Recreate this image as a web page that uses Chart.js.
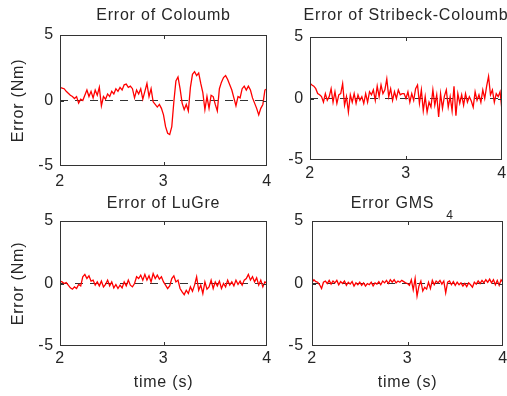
<!DOCTYPE html>
<html>
<head>
<meta charset="utf-8">
<script src="https://cdn.jsdelivr.net/npm/chart.js@4.4.1/dist/chart.umd.min.js"></script>
<style>
  body { margin: 0; width: 507px; height: 396px; overflow: hidden; background: #fff; position: relative; }
  canvas { position: absolute; }
</style>
</head>
<body>
<canvas id="coloumb" width="327" height="196" style="left:0;top:0"></canvas>
<canvas id="stribeck" width="272" height="196" style="left:270px;top:0"></canvas>
<canvas id="lugre" width="327" height="211" style="left:0;top:185px"></canvas>
<canvas id="gms" width="241" height="211" style="left:272px;top:185px"></canvas>
<script>
// time axis: 2 s to 4 s, one sample every 0.02 s
var tStart = 2, tStep = 0.02, nSamples = 101;
var xTicks = [2, 3, 4];
var yTicks = [-5, 0, 5];
var refTime = [2, 4];
var refValue = [0, 0];

var errColoumb = [
  1.0, 0.95, 0.9, 0.7, 0.55, 0.4, 0.3, 0.15, 0.3, -0.2,
  0.1, 0.0, 0.4, 0.8, 0.3, 0.7, 0.2, 0.8, 0.4, 1.0,
  -0.4, 0.3, 0.1, 0.5, 0.3, 0.7, 0.5, 0.9, 0.7, 1.0,
  0.8, 1.2, 1.25, 1.0, 1.1, 0.9, 0.2, 0.8, 0.5, 0.9,
  0.1, 0.7, 1.3, 0.3, 0.9, -0.1, -0.3, -0.5, -0.3, -0.6,
  -1.1, -2.0, -2.5, -2.6, -2.0, -0.1, 1.5, 1.8, 0.9, -0.2,
  -0.7, -0.3, -0.8, 1.0, 2.0, 2.2, 1.9, 2.1, 1.3, 0.6,
  -0.7, 0.3, -0.6, 0.4, 0.3, -0.3, -0.8, 0.9, 1.4, 1.75,
  1.9, 1.6, 1.2, 0.8, 0.2, -0.4, 0.3, 0.2, 0.9, 1.1,
  0.8, 1.1, 0.8, 0.2, -0.2, -0.6, -1.1, -0.6, -0.3, 0.8,
  0.9
];
var errStribeck = [
  1.23, 1.1, 1.0, 0.8, 0.4, 0.3, 0.15, -0.3, 0.4, -0.15,
  0.15, 0.8, -0.3, 0.55, -0.4, 0.3, 0.4, 1.2, -0.55, 0.15,
  -1.1, 0.3, -0.3, 0.4, -0.4, 0.3, -0.15, 0.15, -0.4, 0.4,
  -0.3, 0.55, 0.3, 0.7, -0.15, 1.0, 0.15, 1.1, 0.4, 0.7,
  1.6, 0.15, 0.8, -0.15, 0.55, 0.0, 0.7, 0.3, 0.4,
  0.4, 0.0, 0.55, -0.3, 0.4, -0.15, 0.8, 1.1, -0.4, 0.7,
  -1.0, 0.15, -1.1, -0.3, -0.7, 0.7, -0.55, 0.3, -1.5, 0.4,
  -0.8, 0.2, 0.7, -0.7, 0.15, -1.0, 1.0, -1.4, 0.4, -0.4,
  0.3, -0.55, 0.4, -0.3, 0.15, -0.2, -0.7, 0.55, -0.15, 0.3,
  -0.3, 0.7, 0.0, 1.0, 1.8, 0.3, 0.7, -0.3, 0.4, 0.15,
  0.55, -1.0
];
var errLuGre = [
  0.19, 0.13, 0, 0.08, -0.13, -0.35, -0.46, -0.27, -0.4, -0.08,
  -0.19, 0.54, 0.73, 0.4, 0.62, 0.19, 0.27, -0.13, 0.13, -0.19,
  0.19, -0.27, -0.08, 0.27, -0.19, 0.13, -0.35, -0.08, -0.4,
  -0.13, -0.35, 0.13, -0.19, 0.27, -0.13, -0.27, 0, 0.54, 0.4,
  0.67, 0.27, 0.73, 0.27, 0.62, 0.13, 0.8, 0.4, 0.67, 0.35,
  0.54, 0.13, -0.13, -0.4, -0.19, 0.4, 0.62, 0.13, 0.27, -0.4,
  -0.67, -0.89, -0.54, -0.8, -0.27, -0.62, -0.13, 0.54, -0.54, -0.13,
  -0.8, 0.13, -0.46, -0.27, 0.27, -0.4, 0.13, -0.19, 0.19,
  -0.4, 0, -0.27, 0.27, -0.13, 0.13, -0.19, 0.27, -0.08, 0.19,
  -0.13, 0.27, 0.4, 0.73, 0.27, 0.54, 0.13, 0.46, -0.13,
  0.27, -0.27, 0.13, 0
];
var errGMS = [
  0.1, 0.3, 0.15, 0.1, -0.1, -0.4, 0.1, 0.2, 0.0, 0.25,
  -0.05, 0.2, 0.05, 0.25, -0.1, 0.15, 0.0, 0.2, -0.15, 0.1,
  -0.05, 0.15, -0.2, 0.05, -0.1, 0.1, -0.15, 0.05, -0.2, 0.0,
  -0.1, 0.1, -0.2, 0.05, -0.05, 0.15, -0.1, 0.2, 0.05, 0.25,
  0.0, 0.3, 0.1, 0.3, 0.05, 0.2, 0.1, 0.25, 0.15, 0.05,
  0.0, -0.15, 0.3, -0.5, 0.4, -1.0, -0.2, 0.2, -0.6, -0.3,
  -0.45, 0.1, -0.4, 0.25, -0.1, 0.2, 0.05, 0.25, -0.05, 0.2,
  -0.75, 0.1, 0.2, -0.1, 0.15, -0.15, 0.1, -0.1, 0.05, -0.2,
  0.0, -0.25, 0.05, -0.1, -0.3, 0.1, -0.05, 0.2, 0.0, 0.25,
  0.05, 0.3, 0.1, 0.35, 0.05, 0.3, -0.1, 0.25, -0.15, 0.3,
  0.1
];

var time = [];
for (var i = 0; i < nSamples; i++) time.push(+(tStart + i * tStep).toFixed(2));

var FONT = 'Liberation Sans, Arial, sans-serif';
var TEXT = '#262626';

function pts(xs, ys) {
  return ys.map(function (v, i) { return { x: xs[i], y: v }; });
}

function clamp(v, lo, hi) { return Math.min(Math.max(v, lo), hi); }

// matlab style: box all round, ticks pointing inward
var boxPlugin = {
  id: 'box',
  beforeDraw: function (chart) { chart.ctx.letterSpacing = '0.8px'; },
  afterDatasetsDraw: function (chart) {
    var ctx = chart.ctx, a = chart.chartArea, x = chart.scales.x, y = chart.scales.y;
    ctx.save();
    ctx.strokeStyle = '#333';
    ctx.lineWidth = 1;
    ctx.strokeRect(a.left + 0.5, a.top + 0.5, a.width - 1, a.height - 1);
    ctx.beginPath();
    xTicks.forEach(function (v) {
      var px = clamp(Math.round(x.getPixelForValue(v)), a.left, a.right - 1) + 0.5;
      ctx.moveTo(px, a.bottom); ctx.lineTo(px, a.bottom - 4);
      ctx.moveTo(px, a.top); ctx.lineTo(px, a.top + 4);
    });
    yTicks.forEach(function (v) {
      var py = clamp(Math.round(y.getPixelForValue(v)), a.top, a.bottom - 1) + 0.5;
      ctx.moveTo(a.left, py); ctx.lineTo(a.left + 4, py);
      ctx.moveTo(a.right, py); ctx.lineTo(a.right - 4, py);
    });
    ctx.stroke();
    ctx.restore();
  },
  // subscript after the title text (tex style GMS_4)
  afterDraw: function (chart) {
    var sub = chart.options.plugins.box && chart.options.plugins.box.sub;
    if (!sub) return;
    var ctx = chart.ctx, tb = chart.titleBlock, t = chart.options.plugins.title;
    ctx.save();
    ctx.font = '16px ' + FONT;
    var w = ctx.measureText(t.text).width;
    var mid = tb.top + t.padding.top + 9.6;
    ctx.font = '12px ' + FONT;
    ctx.fillStyle = TEXT;
    ctx.textBaseline = 'alphabetic';
    ctx.textAlign = 'left';
    ctx.fillText(sub, (tb.left + tb.right) / 2 + w / 2 + 12, mid + 5.5 + 10.5);
    ctx.restore();
  }
};

function makeChart(id, title, series, o) {
  var xScale = {
    type: 'linear', min: 2, max: 4,
    grid: { display: false, drawTicks: false },
    border: { display: false },
    ticks: { stepSize: 1, color: TEXT, padding: o.xPad, font: { family: FONT, size: 16 } },
    afterFit: function (s) { s.height = o.xHeight; }
  };
  if (o.xTitle) {
    xScale.title = { display: true, text: 'time (s)', color: TEXT, padding: { top: 0, bottom: 3.5 }, font: { family: FONT, size: 16 } };
  }
  var yScale = {
    min: -5, max: 5,
    grid: { display: false, drawTicks: false },
    border: { display: false },
    ticks: { stepSize: 5, color: TEXT, padding: o.yPad, font: { family: FONT, size: 16 } },
    afterFit: function (s) { s.width = o.yWidth; }
  };
  if (o.yTitle) {
    yScale.title = { display: true, text: 'Error (Nm)', color: TEXT, padding: { top: 9, bottom: 0 }, font: { family: FONT, size: 16 } };
  }
  // empty right-hand axis only to reserve the margin, so the title stays centred over the plot
  var rightScale = {
    position: 'right', min: -5, max: 5,
    grid: { display: false, drawTicks: false },
    border: { display: false },
    ticks: { display: false },
    afterFit: function (s) { s.width = o.rightWidth; }
  };
  return new Chart(document.getElementById(id), {
    type: 'line',
    data: {
      datasets: [{
        data: pts(time, series),
        borderColor: '#ff0000',
        borderWidth: 1.3,
        pointRadius: 0,
        tension: 0
      }, {
        data: pts(refTime, refValue),
        borderColor: '#333',
        borderWidth: 1,
        borderDash: [8, 7],
        pointRadius: 0
      }]
    },
    options: {
      responsive: false,
      animation: false,
      layout: { padding: 0 },
      plugins: {
        legend: { display: false },
        tooltip: { enabled: false },
        title: {
          display: true, text: title, color: TEXT,
          font: { family: FONT, size: 16, weight: 'normal' },
          padding: { top: o.titleTop, bottom: o.titleBottom }
        },
        box: { sub: o.sub }
      },
      scales: { x: xScale, y: yScale, y2: rightScale }
    },
    plugins: [boxPlugin]
  });
}

makeChart('coloumb', 'Error of Coloumb', errColoumb,
  { xPad: 6, yPad: 6, xHeight: 30, yWidth: 60, rightWidth: 60, titleTop: 6, titleBottom: 9.8, yTitle: true });
makeChart('stribeck', 'Error of Stribeck-Coloumb', errStribeck,
  { xPad: 4, yPad: 6, xHeight: 36, yWidth: 40, rightWidth: 40, titleTop: 6, titleBottom: 11.8 });
makeChart('lugre', 'Error of LuGre', errLuGre,
  { xPad: 3, yPad: 6, xHeight: 50, yWidth: 60, rightWidth: 60, titleTop: 8.5, titleBottom: 8.3, yTitle: true, xTitle: true });
makeChart('gms', 'Error GMS', errGMS,
  { xPad: 3, yPad: 8, xHeight: 50, yWidth: 40, rightWidth: 10, titleTop: 8.5, titleBottom: 8.3, xTitle: true, sub: '4' });
</script>
</body>
</html>
